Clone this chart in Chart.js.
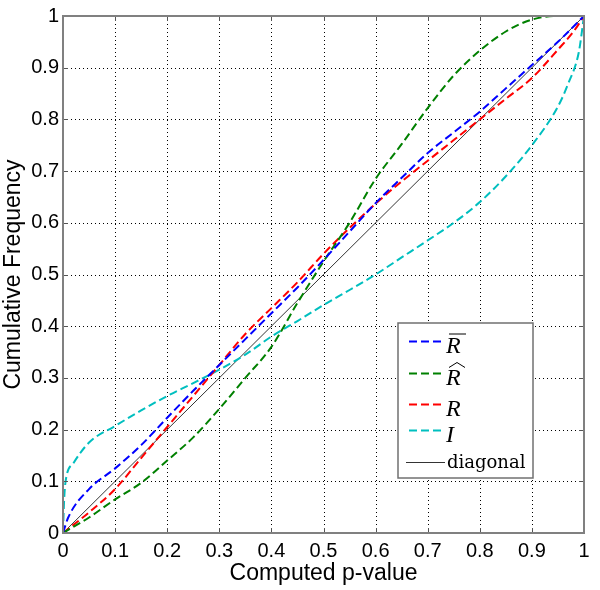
<!DOCTYPE html>
<html>
<head>
<meta charset="utf-8">
<script src="https://cdn.jsdelivr.net/npm/chart.js@4"></script>
<style>
  html, body { margin: 0; padding: 0; background: #fff; }
  #wrap { width: 600px; height: 590px; }
</style>
</head>
<body>
<div id="wrap"><canvas id="cdfChart" width="600" height="590"></canvas></div>
<script>
// p-value grid (x) and cumulative frequency (y)
const rbarX = [0, 0.01, 0.05, 0.1, 0.15, 0.2, 0.25, 0.3, 0.35, 0.4, 0.45, 0.5, 0.55, 0.6, 0.65, 0.7, 0.75, 0.8, 0.85, 0.9, 0.95, 1];
const rbarY = [0, 0.03, 0.085, 0.125, 0.17, 0.223, 0.275, 0.325, 0.375, 0.425, 0.475, 0.528, 0.583, 0.638, 0.687, 0.735, 0.775, 0.815, 0.86, 0.905, 0.95, 1];

const rhatX = [0, 0.05, 0.1, 0.15, 0.2, 0.25, 0.3, 0.35, 0.4, 0.45, 0.5, 0.55, 0.6, 0.65, 0.7, 0.75, 0.8, 0.85, 0.9, 0.95, 1];
const rhatY = [0, 0.03, 0.065, 0.097, 0.14, 0.185, 0.24, 0.3, 0.36, 0.445, 0.525, 0.6, 0.685, 0.752, 0.822, 0.885, 0.933, 0.97, 0.993, 1, 1];

const rX = [0, 0.05, 0.1, 0.15, 0.2, 0.25, 0.3, 0.35, 0.4, 0.45, 0.5, 0.55, 0.6, 0.65, 0.7, 0.75, 0.8, 0.85, 0.9, 0.95, 0.98, 1];
const rY = [0, 0.04, 0.085, 0.145, 0.205, 0.265, 0.325, 0.385, 0.435, 0.485, 0.54, 0.59, 0.637, 0.68, 0.72, 0.76, 0.8, 0.84, 0.88, 0.935, 0.97, 1];

const iX = [0, 0.002, 0.005, 0.02, 0.05, 0.1, 0.15, 0.2, 0.25, 0.3, 0.35, 0.4, 0.45, 0.5, 0.55, 0.6, 0.65, 0.7, 0.75, 0.8, 0.85, 0.9, 0.95, 0.97, 0.99, 1];
const iY = [0, 0.06, 0.1, 0.135, 0.175, 0.207, 0.237, 0.265, 0.29, 0.316, 0.345, 0.38, 0.41, 0.441, 0.47, 0.5, 0.533, 0.566, 0.6, 0.64, 0.69, 0.75, 0.825, 0.87, 0.93, 1];

const diagX = [0, 1];
const diagY = [0, 1];

const tickValues = [0, 0.1, 0.2, 0.3, 0.4, 0.5, 0.6, 0.7, 0.8, 0.9, 1];

function pts(xs, ys) {
    return xs.map((x, i) => ({ x: x, y: ys[i] }));
}

const legendItems = [
    { label: 'R', mark: 'bar', color: '#0000ff', dashed: true },
    { label: 'R', mark: 'hat', color: '#008000', dashed: true },
    { label: 'R', mark: '', color: '#ff0000', dashed: true },
    { label: 'I', mark: '', color: '#00bfbf', dashed: true },
    { label: 'diagonal', mark: 'plain', color: '#000000', dashed: false }
];

// dotted grid under the curves
const dotGridPlugin = {
    id: 'dotGrid',
    beforeDatasetsDraw(chart) {
        const c = chart.ctx, a = chart.chartArea;
        const xs = chart.scales.x, ys = chart.scales.y;
        c.save();
        c.strokeStyle = '#000';
        c.lineWidth = 1;
        c.setLineDash([1, 3]);
        tickValues.slice(1, -1).forEach(v => {
            const px = Math.round(xs.getPixelForValue(v)) + 0.5;
            c.beginPath(); c.moveTo(px, a.top); c.lineTo(px, a.bottom); c.stroke();
            const py = Math.round(ys.getPixelForValue(v)) + 0.5;
            c.beginPath(); c.moveTo(a.left, py); c.lineTo(a.right, py); c.stroke();
        });
        c.restore();
    }
};

// box, inward ticks and the legend, drawn after the chart
const framePlugin = {
    id: 'frame',
    afterDraw(chart) {
        const ctx = chart.ctx;
        const a = chart.chartArea;
        const xs = chart.scales.x, ys = chart.scales.y;
        ctx.save();
        ctx.strokeStyle = '#555';
        ctx.lineWidth = 1;
        tickValues.forEach(v => {
            const px = Math.round(xs.getPixelForValue(v)) + 0.5;
            ctx.beginPath();
            ctx.moveTo(px, a.bottom); ctx.lineTo(px, a.bottom - 5);
            ctx.moveTo(px, a.top); ctx.lineTo(px, a.top + 5);
            ctx.stroke();
            const py = Math.round(ys.getPixelForValue(v)) + 0.5;
            ctx.beginPath();
            ctx.moveTo(a.left, py); ctx.lineTo(a.left + 5, py);
            ctx.moveTo(a.right, py); ctx.lineTo(a.right - 5, py);
            ctx.stroke();
        });
        ctx.strokeStyle = '#808080';
        ctx.lineWidth = 2;
        ctx.strokeRect(a.left, a.top, a.right - a.left, a.bottom - a.top);

        // legend
        const lx = 398, ly = 323, lw = 135, lh = 155;
        ctx.fillStyle = '#fff';
        ctx.fillRect(lx, ly, lw, lh);
        ctx.strokeStyle = '#707070';
        ctx.lineWidth = 1.5;
        ctx.strokeRect(lx, ly, lw, lh);
        const rows = [341, 373, 404, 430, 462];
        legendItems.forEach((it, i) => {
            const y = rows[i] + 0.5;
            ctx.strokeStyle = it.color;
            ctx.lineWidth = it.dashed ? 2 : 0.8;
            ctx.setLineDash(it.dashed ? [8, 4] : []);
            ctx.beginPath();
            ctx.moveTo(it.dashed ? 409 : 406, y); ctx.lineTo(445, y);
            ctx.stroke();
            ctx.setLineDash([]);
            ctx.fillStyle = '#000';
            ctx.textBaseline = 'alphabetic';
            ctx.textAlign = 'left';
            if (it.mark === 'plain') {
                ctx.font = '18px "DejaVu Serif", "Liberation Serif", serif';
                ctx.fillText(it.label, 447, y + 5);
            } else {
                ctx.font = 'italic 24px "Liberation Serif", "DejaVu Serif", serif';
                ctx.fillText(it.label, 446, y + 11);
                ctx.strokeStyle = '#000';
                ctx.lineWidth = 1;
                if (it.mark === 'bar') {
                    ctx.beginPath();
                    ctx.moveTo(449, y - 7.5); ctx.lineTo(466, y - 7.5);
                    ctx.stroke();
                } else if (it.mark === 'hat') {
                    ctx.beginPath();
                    ctx.moveTo(449, y - 6); ctx.lineTo(457, y - 11); ctx.lineTo(465, y - 6);
                    ctx.stroke();
                }
            }
        });
        ctx.restore();
    }
};

function dashedSet(label, xs, ys, color) {
    return {
        label: label,
        data: pts(xs, ys),
        borderColor: color,
        borderWidth: 2,
        borderDash: [8, 4],
        pointRadius: 0,
        cubicInterpolationMode: 'monotone',
        fill: false
    };
}

const sansFont = '"Liberation Sans", Arial, sans-serif';

const ctx = document.getElementById('cdfChart').getContext('2d');
new Chart(ctx, {
    type: 'line',
    data: {
        datasets: [
            dashedSet('R bar', rbarX, rbarY, '#0000ff'),
            dashedSet('R hat', rhatX, rhatY, '#008000'),
            dashedSet('R', rX, rY, '#ff0000'),
            dashedSet('I', iX, iY, '#00bfbf'),
            {
                label: 'diagonal',
                data: pts(diagX, diagY),
                borderColor: '#000000',
                borderWidth: 0.8,
                pointRadius: 0,
                fill: false
            }
        ]
    },
    options: {
        responsive: false,
        animation: false,
        layout: { padding: { top: 12, right: 16, left: 0, bottom: 0 } },
        plugins: {
            legend: { display: false },
            tooltip: { enabled: false }
        },
        scales: {
            x: {
                type: 'linear',
                min: 0, max: 1,
                afterFit(scale) { scale.height = 57; },
                afterBuildTicks(scale) { scale.ticks = tickValues.map(v => ({ value: v })); },
                grid: { display: false, drawTicks: false },
                border: { display: false },
                ticks: {
                    color: '#000',
                    padding: 6,
                    maxRotation: 0,
                    font: { family: sansFont, size: 20 },
                    callback: v => String(Math.round(v * 10) / 10)
                },
                title: {
                    display: true,
                    text: 'Computed p-value',
                    color: '#000',
                    padding: { top: 0, bottom: 3 },
                    font: { family: sansFont, size: 23 }
                }
            },
            y: {
                type: 'linear',
                min: 0, max: 1,
                afterFit(scale) { scale.width = 63; },
                afterBuildTicks(scale) { scale.ticks = tickValues.map(v => ({ value: v })); },
                grid: { display: false, drawTicks: false },
                border: { display: false },
                ticks: {
                    color: '#000',
                    padding: 4,
                    font: { family: sansFont, size: 20 },
                    callback: v => String(Math.round(v * 10) / 10)
                },
                title: {
                    display: true,
                    text: 'Cumulative Frequency',
                    color: '#000',
                    padding: { top: 0, bottom: 0 },
                    font: { family: sansFont, size: 23 }
                }
            }
        }
    },
    plugins: [dotGridPlugin, framePlugin]
});
</script>
</body>
</html>
